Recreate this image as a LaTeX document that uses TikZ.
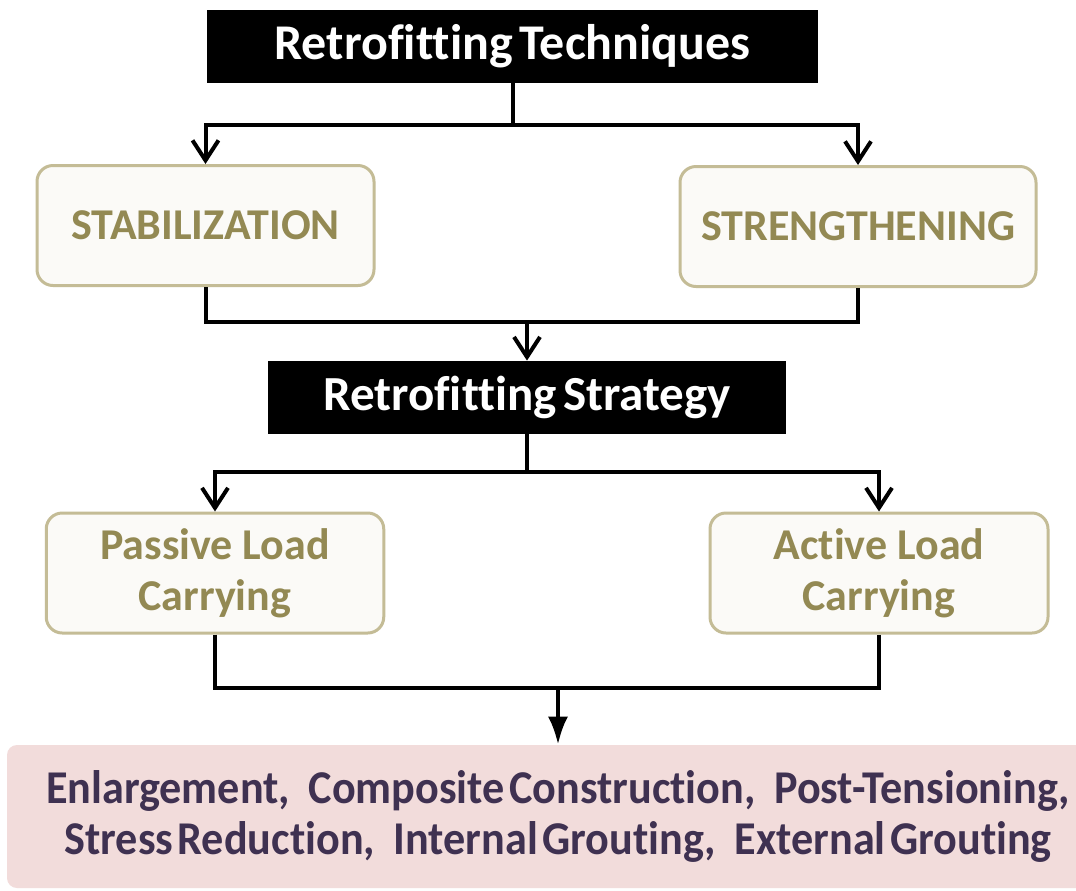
\documentclass[tikz,border=0pt]{standalone}
\usepackage{fontspec}
\setmainfont[Ligatures=NoCommon]{Carlito}
\newfontfamily\narrowfont[FakeStretch=0.94,WordSpace=0.45,Ligatures=NoCommon]{Carlito}
\usepackage{tikz}
\usetikzlibrary{arrows.meta,positioning}
\definecolor{TanLine}{HTML}{C4BC96}
\definecolor{TanFill}{HTML}{FBFAF7}
\definecolor{OliveText}{HTML}{938953}
\definecolor{PinkFill}{HTML}{F2DCDB}
\definecolor{PlumText}{HTML}{3F3151}

\begin{document}
\begin{tikzpicture}[x=0.5pt,y=-0.5pt,
    headbox/.style={fill=black,text=white,inner sep=0pt,minimum height=36.5pt},
    optbox/.style={draw=TanLine,line width=1.5pt,fill=TanFill,rounded corners=8pt,
      text=OliveText,align=center,inner sep=0pt,minimum height=60pt,
      font=\fontsize{22}{25.5}\selectfont\bfseries},
    link/.style={line width=2pt,-{Straight Barb[length=10pt,width=13pt,line width=2pt]}},
    wire/.style={line width=2pt}]
  \clip (0,0) rectangle (1076,890);
  \fill[white] (0,0) rectangle (1076,890);
  % boxes
  \node[headbox,minimum width=305.5pt,font=\fontsize{25}{30}\selectfont\bfseries]
    (tech) at (512.5,46.5) {Retrofitting\kern-.1em{} Techniques};
  \node[optbox,minimum width=168.5pt] (stab) at (205.5,225.5) {STABILIZATION};
  \node[optbox,minimum width=178pt] (streng) at (858,226.5) {STRENGTHENING};
  \node[headbox,minimum width=259pt,font=\fontsize{24.5}{30}\selectfont\bfseries]
    (strat) at (527,397.5) {Retrofitting\kern-.1em{} Strategy};
  \node[optbox,minimum width=168.75pt] (passive) at (215,573) {Passive Load\\Carrying};
  \node[optbox,minimum width=169pt] (active) at (879,573) {Active Load\\Carrying};
  \node[fill=PinkFill,rounded corners=5pt,minimum width=551pt,minimum height=71.5pt,
        inner sep=0pt,align=center,text=PlumText,
        font=\fontsize{23.5}{25.5}\narrowfont\bfseries] (methods) at (558,816.5)
    {\raisebox{-1.5pt}{Enlargement,\kern.3em{} Composite Construction,\kern.3em{} Post-Tensioning,}\\
     \raisebox{-1.5pt}{Stress Reduction,\kern.3em{} Internal Grouting,\kern.3em{} External Grouting}};
  % forks and merges
  \coordinate (fork1) at (512.5,125);
  \coordinate (merge1) at (527,322);
  \coordinate (fork2) at (527,472);
  \coordinate (merge2) at (558,688);
  \draw[wire] (tech.south) -- (fork1);
  \draw[link] (fork1) -| (stab.north);
  \draw[link] (fork1) -| (streng.north);
  \draw[wire] (stab.south) |- (merge1);
  \draw[wire] (streng.south) |- (merge1);
  \draw[link] (merge1) -- (strat.north);
  \draw[wire] (strat.south) -- (fork2);
  \draw[link] (fork2) -| (passive.north);
  \draw[link] (fork2) -| (active.north);
  \draw[wire] (passive.south) |- (merge2);
  \draw[wire] (active.south) |- (merge2);
  \draw[line width=2pt,-{Latex[length=14pt,width=10pt]}] (merge2) -- (methods.north);
\end{tikzpicture}
\end{document}
